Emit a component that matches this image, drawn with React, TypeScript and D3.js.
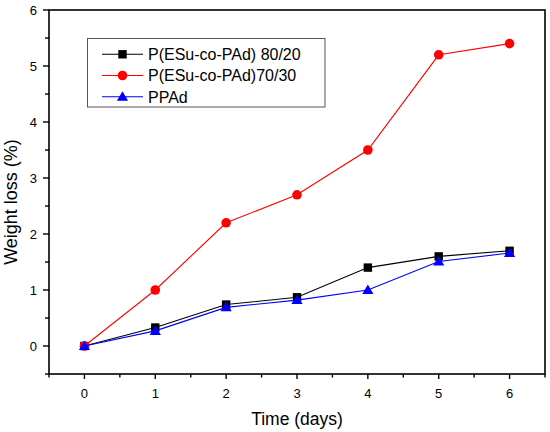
import * as d3 from 'd3';

const days = [0, 1, 2, 3, 4, 5, 6];
const copo8020 = [0, 0.33, 0.74, 0.87, 1.4, 1.6, 1.7];
const copo7030 = [0, 1.0, 2.2, 2.7, 3.5, 5.2, 5.4];
const ppad = [0, 0.27, 0.69, 0.82, 1.0, 1.51, 1.66];
const xTicks = [0, 1, 2, 3, 4, 5, 6];
const yTicks = [0, 1, 2, 3, 4, 5, 6];

const seriesList = [
    { name: 'P(ESu-co-PAd) 80/20', values: copo8020, color: '#000000', shape: 'square' },
    { name: 'P(ESu-co-PAd)70/30', values: copo7030, color: '#ff0000', shape: 'circle' },
    { name: 'PPAd', values: ppad, color: '#0000ff', shape: 'triangle' },
];

const font = 'Arial, "Liberation Sans", sans-serif';

const Marker = ({ shape, color, cx, cy }: { shape: string; color: string; cx: number; cy: number }) => {
    if (shape === 'square') {
        return <rect x={cx - 4.2} y={cy - 4.2} width={8.4} height={8.4} fill={color} />;
    }
    if (shape === 'circle') {
        return <circle cx={cx} cy={cy} r={4.8} fill={color} />;
    }
    return <path d={`M${cx},${cy - 5.5}L${cx + 5.6},${cy + 4}L${cx - 5.6},${cy + 4}Z`} fill={color} />;
};

const App = () => {
    const width = 550;
    const height = 432;
    const x = d3.scaleLinear().domain([-0.5, 6.5]).range([49, 545]);
    const y = d3.scaleLinear().domain([-0.5, 6]).range([374, 10]);

    const line = d3.line<number>()
        .x((_, i) => x(days[i]))
        .y(d => y(d));

    const minorX = d3.range(-0.5, 6.51, 0.5).filter(v => !xTicks.includes(v));
    const minorY = d3.range(-0.5, 6.01, 0.5).filter(v => !yTicks.includes(v));

    return (
        <svg width={width} height={height} style={{ position: 'absolute', left: 0, top: 0 }}>
            <rect width={width} height={height} fill="#fff" />
            {/* series */}
            {seriesList.map(s => (
                <g key={s.name}>
                    <path d={line(s.values) ?? ''} fill="none" stroke={s.color} strokeWidth={1.1} />
                    {s.values.map((v, i) => (
                        <Marker key={i} shape={s.shape} color={s.color} cx={x(days[i])} cy={y(v)} />
                    ))}
                </g>
            ))}
            {/* frame */}
            <rect x={x(-0.5)} y={y(6)} width={x(6.5) - x(-0.5)} height={y(-0.5) - y(6)}
                fill="none" stroke="#000" strokeWidth={1.6} />
            {/* x ticks */}
            {xTicks.map(t => (
                <g key={t}>
                    <line x1={x(t)} x2={x(t)} y1={y(-0.5)} y2={y(-0.5) + 5} stroke="#000" strokeWidth={1.4} />
                    <text x={x(t)} y={398} textAnchor="middle" fontSize={13} fontFamily={font}>{t}</text>
                </g>
            ))}
            {minorX.map(t => (
                <line key={t} x1={x(t)} x2={x(t)} y1={y(-0.5)} y2={y(-0.5) + 3.5} stroke="#000" strokeWidth={1.4} />
            ))}
            {/* y ticks */}
            {yTicks.map(t => (
                <g key={t}>
                    <line x1={x(-0.5) - 6} x2={x(-0.5)} y1={y(t)} y2={y(t)} stroke="#000" strokeWidth={1.4} />
                    <text x={37} y={y(t) + 4.5} textAnchor="end" fontSize={13} fontFamily={font}>{t}</text>
                </g>
            ))}
            {minorY.map(t => (
                <line key={t} x1={x(-0.5) - 4} x2={x(-0.5)} y1={y(t)} y2={y(t)} stroke="#000" strokeWidth={1.4} />
            ))}
            {/* axis titles */}
            <text x={297} y={425} textAnchor="middle" fontSize={17.5} fontFamily={font}>Time (days)</text>
            <text transform="translate(17, 202) rotate(-90)" textAnchor="middle" fontSize={18} fontFamily={font}>Weight loss (%)</text>
            {/* legend */}
            <rect x={87.5} y={38.5} width={237.5} height={68.5} fill="#fff" stroke="#555" strokeWidth={1} />
            {seriesList.map((s, i) => {
                const cy = 54.3 + i * 21.2;
                return (
                    <g key={s.name}>
                        <line x1={102} x2={143} y1={cy} y2={cy} stroke={s.color} strokeWidth={1.1} />
                        <Marker shape={s.shape} color={s.color} cx={122.5} cy={cy} />
                        <text x={148} y={cy + 5.8} fontSize={16} fontFamily={font}>{s.name}</text>
                    </g>
                );
            })}
        </svg>
    );
};

export default App;
